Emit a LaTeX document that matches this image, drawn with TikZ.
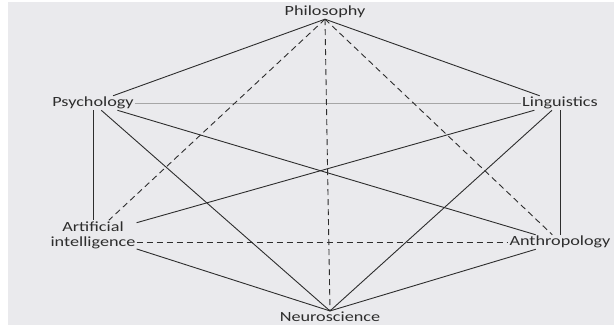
\documentclass[tikz,border=0pt]{standalone}
\usepackage{fontspec}
\newfontfamily\fieldfont[FakeStretch=1.3]{Carlito}
\definecolor{bggray}{RGB}{234,234,237}
\definecolor{inkgray}{RGB}{45,45,45}

\begin{document}
\begin{tikzpicture}[
    x=1pt, y=-1pt,
    field/.style={inner sep=1pt, align=center, text=inkgray, font=\fieldfont\fontsize{14}{15}\selectfont},
    link/.style={draw=inkgray, line width=0.9pt},
    weak/.style={link, dash pattern=on 6pt off 4pt},
    faint/.style={draw=gray!70, line width=0.6pt}
]
\fill[bggray] (8,2) rectangle (614,325);
\useasboundingbox (0,0) rectangle (614,325);

\node[field] (phil) at (325,12) {Philosophy};
\node[field] (psych) at (93,103) {Psychology};
\node[field] (ling) at (560,103) {Linguistics};
\node[field] (ai) at (93,235) {Artificial\\intelligence};
\node[field] (anthro) at (560,242) {Anthropology};
\node[field] (neuro) at (330,317) {Neuroscience};

% solid links
\draw[link] (phil.south) -- (psych);
\draw[link] (phil.south) -- (ling);
\draw[faint] (psych) -- (ling);
\draw[link] (psych) -- (ai);
\draw[link] (ling) -- (anthro);
\draw[link] (psych) -- (anthro);
\draw[link] (psych) -- (neuro.north);
\draw[link] (ling) -- (ai);
\draw[link] (ling) -- (neuro.north);
\draw[link] (ai) -- (neuro.north);
\draw[link] (anthro) -- (neuro.north);

% dashed links
\draw[weak] (phil.south) -- (ai);
\draw[weak] (phil.south) -- (anthro);
\draw[weak] (phil.south) -- (neuro.north);
\draw[weak] ([yshift=-7pt]ai.east) -- (anthro.west);
\end{tikzpicture}
\end{document}
